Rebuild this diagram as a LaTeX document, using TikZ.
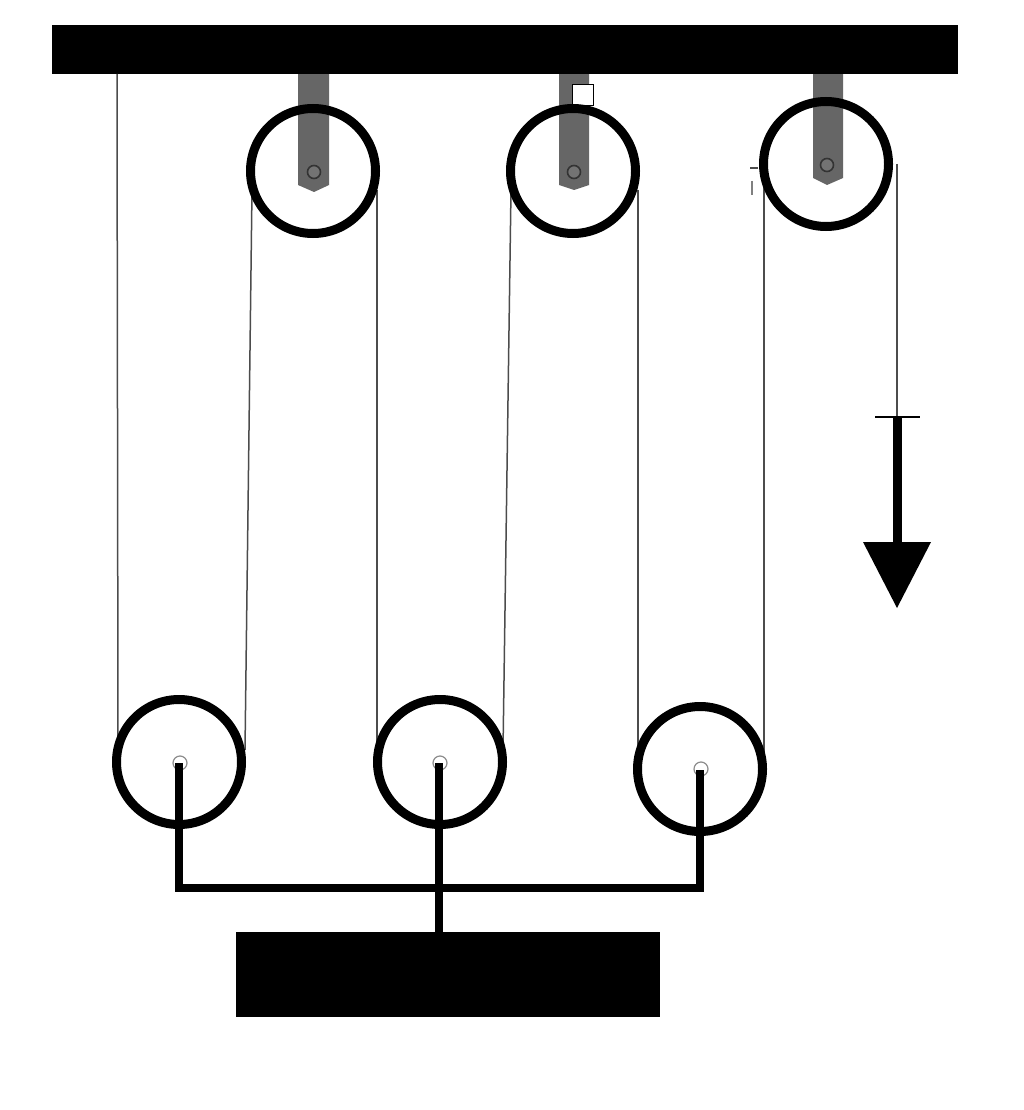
\documentclass[tikz,border=0pt]{standalone}
\begin{document}
\begin{tikzpicture}[x=1pt,y=-1pt,
  wheel/.style={circle,draw=black,line width=9pt,minimum size=125pt,inner sep=0pt,outer sep=0pt},
  rope/.style={draw=black!70,line width=1.5pt},
  thick rod/.style={draw=black,line width=8.5pt},
  hanger/.style={fill=black!60,draw=none},
  axle/.style={circle,draw=black!80,fill=black!55,line width=1.6pt,minimum size=13pt,inner sep=0pt},
  pin/.style={circle,fill=white,draw=black!45,line width=1.2pt,minimum size=14pt,inner sep=0pt}]
\useasboundingbox (0,0) rectangle (1024,1110);
\fill[white] (0,0) rectangle (1024,1110);
% hangers
\fill[hanger] (298,70) -- (329,70) -- (329,185) -- (314,192) -- (298,185) -- cycle;
\fill[hanger] (559,70) -- (589,70) -- (589,185) -- (574,190) -- (559,185) -- cycle;
\fill[hanger] (813,70) -- (843,70) -- (843,178) -- (827,185) -- (813,178) -- cycle;
\fill[black] (52,25) rectangle (958,74);
\node[draw=black,fill=white,line width=1.5pt,minimum size=21pt,inner sep=0pt] (sq) at (583,95) {};
% ropes
\coordinate (r0) at (117,74);   \coordinate (r1) at (118,745);
\coordinate (r2) at (245,750);  \coordinate (r3) at (252,190);
\coordinate (r4) at (377,190);  \coordinate (r5) at (377,750);
\coordinate (r6) at (503,750);  \coordinate (r7) at (511,190);
\coordinate (r8) at (638,190);  \coordinate (r9) at (638,755);
\coordinate (r10) at (764,755); \coordinate (r11) at (764,183);
\coordinate (r12) at (897,164); \coordinate (r13) at (897,417);
\draw[rope] (r0) -- (r1);
\draw[rope] (r2) -- (r3);
\draw[rope] (r4) -- (r5);
\draw[rope] (r6) -- (r7);
\draw[rope] (r8) -- (r9);
\draw[rope] (r10) -- (r11);
\draw[rope] (r12) -- (r13);
\draw[black,line width=2pt] (875,417) -- (920,417);
% wheels
\node[wheel] (t1) at (313,171) {};
\node[wheel] (t2) at (573,171) {};
\node[wheel] (t3) at (826,164) {};
\node[wheel] (b1) at (179,762) {};
\node[wheel] (b2) at (440,762) {};
\node[wheel] (b3) at (700,769) {};
\node[axle] (a1) at (314,172) {};
\node[axle] (a2) at (574,172) {};
\node[axle] (a3) at (827,165) {};
% small tick left of the third upper wheel
\draw[black!70,line width=2pt] (750,168) -- (758,168);
\draw[black!50,line width=2pt] (752,181) -- (752,195);
% arrow
\coordinate (s0) at (897,417);
\coordinate (s1) at (897,545);
\draw[black,line width=9pt] (s0) -- (s1);
\fill[black] (863,542) -- (931,542) -- (897,608) -- cycle;
% load
\fill[black] (236,932) rectangle (660,1017);
% lower rods
\node[pin] (h1) at (180,763) {};
\node[pin] (h2) at (440,763) {};
\node[pin] (h3) at (701,769) {};
\coordinate (j1) at (179,888);
\coordinate (j3) at (700,888);
\coordinate (j2) at (439,932);
\draw[thick rod,line join=miter] (179,763) -- (j1) -- (j3) -- (700,770);
\draw[thick rod] (439,763) -- (j2);
\end{tikzpicture}
\end{document}
